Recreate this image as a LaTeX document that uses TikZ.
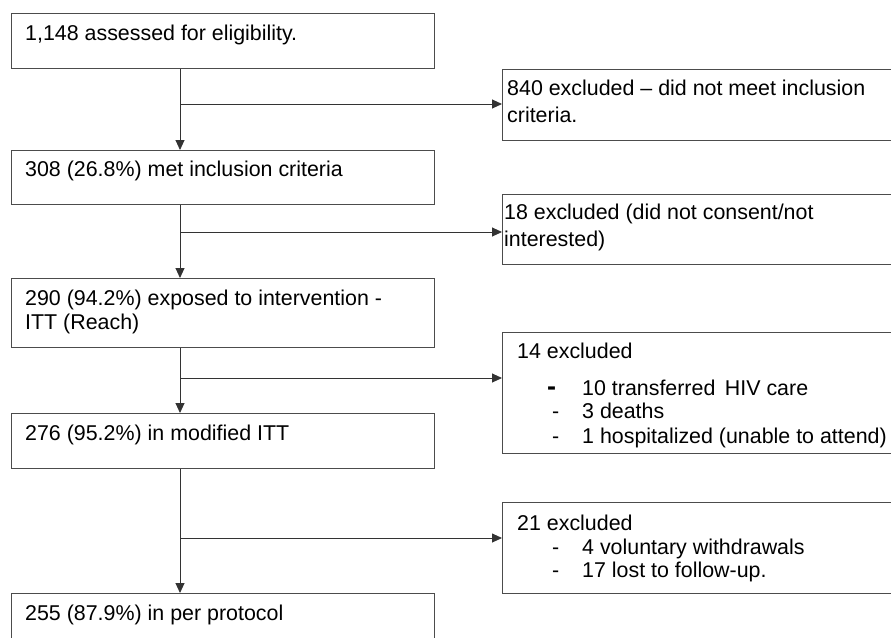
\documentclass[tikz,border=0pt]{standalone}
\usepackage{fontspec}
\setmainfont{Liberation Sans}
\usetikzlibrary{arrows.meta}
\begin{document}
\begin{tikzpicture}[x=1pt,y=-1pt,
  box/.style={draw=black!70,line width=0.9pt,rectangle,inner sep=0pt,anchor=north west},
  txt/.style={anchor=base west,inner sep=0pt,font=\fontsize{21.4}{24}\selectfont},
  arr/.style={draw=black!80,line width=0.9pt,-{Triangle[length=10pt,width=9pt]}},
  ln/.style={draw=black!80,line width=0.9pt}]
\useasboundingbox (0,0) rectangle (891,637);
\clip (0,0) rectangle (891,637);
% left column boxes
\node[box,minimum width=423pt,minimum height=55pt] (B1) at (11,13) {};
\node[box,minimum width=423pt,minimum height=54pt] (B2) at (11,150) {};
\node[box,minimum width=423pt,minimum height=69pt] (B3) at (11,278) {};
\node[box,minimum width=423pt,minimum height=55pt] (B4) at (11,413) {};
\node[box,minimum width=423pt,minimum height=70pt] (B5) at (11,593) {};
% right column boxes
\node[box,minimum width=420pt,minimum height=71pt] (R1) at (502,69) {};
\node[box,minimum width=420pt,minimum height=70pt] (R2) at (502,194) {};
\node[box,minimum width=420pt,minimum height=121pt] (R3) at (502,332) {};
\node[box,minimum width=420pt,minimum height=91pt] (R4) at (502,502) {};
% texts
\node[txt] (t1) at (25,40.5) {1,148 assessed for eligibility.};
\node[txt] (t2) at (25,176.5) {308 (26.8\%) met inclusion criteria};
\node[txt] (t3a) at (25,305.5) {290 (94.2\%) exposed to intervention -};
\node[txt] (t3b) at (25,329.5) {ITT (Reach)};
\node[txt] (t4) at (25,440) {276 (95.2\%) in modified ITT};
\node[txt] (t5) at (25,620) {255 (87.9\%) in per protocol};
\node[txt] (r1a) at (507,95) {840 excluded – did not meet inclusion};
\node[txt] (r1b) at (507,122) {criteria.};
\node[txt] (r2a) at (504,219.5) {18 excluded (did not consent/not};
\node[txt] (r2b) at (504,246.5) {interested)};
\node[txt] (r3a) at (517,358.5) {14 excluded};
\node[txt,font=\fontsize{27}{30}\selectfont\bfseries] (r3d1) at (547,395) {-};
\node[txt] (r3b) at (582,395) {10 transferred\, HIV care};
\node[txt] (r3d2) at (552,418.5) {-};
\node[txt] (r3c) at (582,418.5) {3 deaths};
\node[txt] (r3d3) at (552,443.5) {-};
\node[txt] (r3e) at (582,443.5) {1 hospitalized (unable to attend)};
\node[txt] (r4a) at (517,530) {21 excluded};
\node[txt] (r4d1) at (552,554) {-};
\node[txt] (r4b) at (582,554) {4 voluntary withdrawals};
\node[txt] (r4d2) at (552,577.5) {-};
\node[txt] (r4c) at (582,577.5) {17 lost to follow-up.};
% connectors
\coordinate (cx) at (180,0);
\coordinate (j1) at (180,104);
\coordinate (j2) at (180,232);
\coordinate (j3) at (180,378);
\coordinate (j4) at (180,538);
\draw[arr] (cx |- B1.south) -- (cx |- B2.north);
\draw[arr] (cx |- B2.south) -- (cx |- B3.north);
\draw[arr] (cx |- B3.south) -- (cx |- B4.north);
\draw[arr] (cx |- B4.south) -- (cx |- B5.north);
\draw[arr] (j1) -- (j1 -| R1.west);
\draw[arr] (j2) -- (j2 -| R2.west);
\draw[arr] (j3) -- (j3 -| R3.west);
\draw[arr] (j4) -- (j4 -| R4.west);
\end{tikzpicture}
\end{document}
